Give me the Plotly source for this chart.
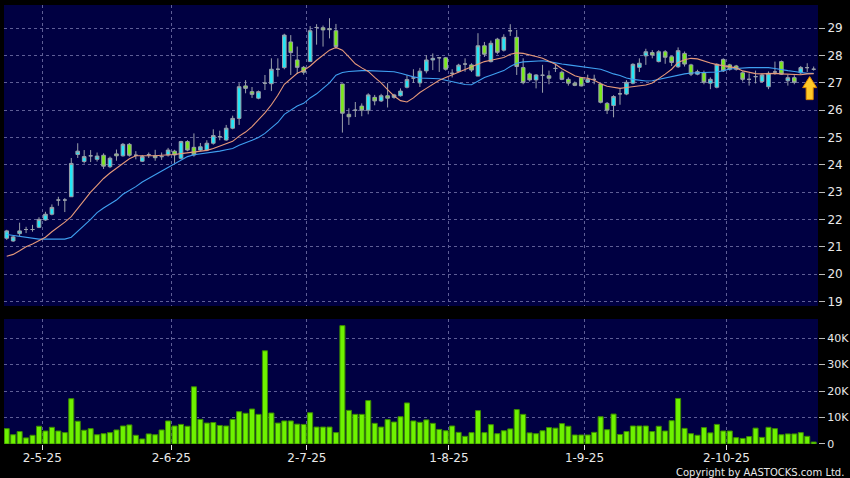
import plotly.graph_objects as go

# ---------------- data ----------------
month_labels = ["2-5-25", "2-6-25", "2-7-25", "1-8-25", "1-9-25", "2-10-25"]
month_first_bar = [6, 26, 47, 69, 90, 112]

open_ = [21.31, 21.21, 21.48, 21.63, 21.63, 21.71, 21.98, 22.19, 22.71, 22.71,
         22.83, 24.38, 24.12, 24.33, 24.20, 24.35, 23.93, 24.40, 24.33, 24.75,
         24.35, 24.13, 24.37, 24.33, 24.30, 24.36, 24.50, 24.24, 24.85, 24.64,
         24.54, 24.54, 24.79, 25.03, 24.91, 25.34, 25.70, 26.89, 26.68, 26.44,
         26.99, 26.97, 27.50, 27.56, 28.50, 27.84, 27.57, 27.78, 29.03, 29.02,
         28.99, 28.91, 26.96, 25.85, 26.00, 26.15, 26.00, 26.47, 26.34, 26.53,
         26.47, 26.53, 26.84, 27.18, 27.00, 27.44, 27.84, 27.92, 27.92, 27.35,
         27.42, 27.69, 27.66, 27.25, 28.36, 27.78, 28.60, 28.20, 28.91, 28.67,
         27.56, 27.33, 27.11, 27.28, 27.26, 27.53, 27.39, 27.13, 26.99, 27.19,
         27.03, 27.13, 26.96, 26.25, 26.17, 26.60, 26.59, 26.99, 27.57, 27.99,
         28.11, 27.78, 28.14, 27.96, 27.59, 28.08, 27.66, 27.32, 27.37, 26.99,
         26.84, 27.86, 27.66, 27.62, 27.37, 27.13, 27.23, 27.05, 26.86, 27.40,
         27.78, 27.08, 27.19, 27.37, 27.56, 27.50]
high = [21.62, 21.40, 21.88, 21.73, 21.80, 22.08, 22.28, 22.55, 22.83, 22.78,
        24.25, 24.79, 24.54, 24.54, 24.45, 24.42, 24.30, 24.56, 24.80, 24.80,
        24.50, 24.36, 24.45, 24.55, 24.45, 24.62, 24.55, 24.88, 24.90, 25.15,
        24.80, 24.90, 25.30, 25.25, 25.46, 25.80, 26.99, 27.10, 26.85, 26.72,
        27.29, 27.90, 27.90, 28.80, 28.75, 28.33, 27.62, 29.08, 29.15, 29.10,
        29.37, 29.16, 26.96, 26.07, 26.30, 26.25, 26.62, 26.56, 26.60, 26.99,
        26.60, 26.80, 27.28, 27.50, 27.55, 28.02, 28.08, 27.95, 27.95, 27.50,
        27.70, 27.90, 27.72, 28.82, 28.50, 28.55, 28.65, 28.78, 29.15, 28.94,
        27.90, 27.38, 27.32, 27.66, 27.45, 27.70, 27.45, 27.20, 27.05, 27.22,
        27.30, 27.30, 26.98, 26.30, 26.55, 26.80, 27.10, 27.72, 27.90, 28.25,
        28.20, 28.20, 28.20, 28.00, 28.30, 28.15, 27.70, 27.48, 27.45, 27.20,
        27.72, 27.90, 27.70, 27.66, 27.42, 27.35, 27.45, 27.35, 27.42, 27.78,
        27.82, 27.30, 27.28, 27.62, 27.72, 27.60]
low = [21.25, 21.18, 21.39, 21.50, 21.55, 21.68, 21.95, 22.15, 22.50, 22.27,
       22.83, 24.25, 24.05, 24.10, 24.12, 23.85, 23.88, 24.15, 24.30, 24.30,
       24.20, 24.10, 24.25, 24.15, 24.18, 24.30, 24.05, 24.20, 24.50, 24.30,
       24.50, 24.50, 24.74, 24.90, 24.88, 25.30, 25.46, 26.62, 26.45, 26.40,
       26.74, 26.70, 27.23, 27.50, 27.29, 27.33, 27.30, 27.78, 28.40, 28.33,
       28.63, 28.25, 25.18, 25.46, 25.75, 25.78, 25.85, 26.18, 26.30, 26.10,
       26.42, 26.50, 26.80, 27.00, 26.85, 27.35, 27.47, 27.40, 27.45, 27.20,
       27.38, 27.41, 27.40, 27.25, 27.95, 27.75, 28.05, 28.15, 28.72, 27.29,
       26.95, 27.05, 26.80, 26.64, 26.95, 27.40, 27.10, 26.90, 26.88, 26.87,
       27.00, 26.95, 26.25, 25.86, 25.74, 26.20, 26.55, 26.95, 27.40, 27.66,
       27.90, 27.75, 27.70, 27.62, 27.55, 27.60, 27.25, 27.28, 26.95, 26.77,
       26.80, 27.40, 27.45, 27.45, 27.05, 26.90, 26.98, 27.00, 26.77, 27.30,
       27.30, 26.90, 26.95, 27.30, 27.40, 27.45]
close = [21.58, 21.36, 21.58, 21.63, 21.63, 22.00, 22.19, 22.44, 22.71, 22.71,
         24.05, 24.50, 24.30, 24.33, 24.32, 23.95, 24.24, 24.33, 24.75, 24.35,
         24.35, 24.30, 24.37, 24.26, 24.30, 24.54, 24.36, 24.85, 24.54, 24.36,
         24.66, 24.79, 25.07, 25.03, 25.34, 25.70, 26.86, 26.80, 26.58, 26.68,
         26.99, 27.50, 27.50, 28.75, 28.11, 27.57, 27.39, 28.91, 29.03, 28.94,
         28.95, 28.33, 25.89, 25.76, 26.00, 26.00, 26.56, 26.34, 26.53, 26.44,
         26.56, 26.70, 27.12, 27.18, 27.43, 27.84, 27.90, 27.92, 27.50, 27.35,
         27.65, 27.69, 27.47, 28.36, 28.05, 28.45, 28.12, 28.67, 28.91, 27.60,
         27.01, 27.11, 27.29, 27.28, 27.17, 27.53, 27.13, 26.99, 26.91, 26.89,
         27.13, 27.13, 26.29, 26.00, 26.50, 26.60, 27.02, 27.68, 27.72, 28.14,
         28.02, 28.14, 27.94, 27.75, 28.18, 27.69, 27.32, 27.41, 27.02, 27.13,
         27.68, 27.44, 27.50, 27.50, 27.13, 27.13, 27.23, 27.29, 27.35, 27.40,
         27.32, 27.19, 27.02, 27.56, 27.56, 27.50]
volume = [5800, 3500, 4700, 2300, 3300, 6700, 4900, 6300, 4900, 4300,
          17100, 8600, 5200, 5800, 3500, 3900, 4300, 5300, 6800, 7200,
          3300, 1900, 3800, 3500, 5300, 8700, 6800, 7400, 6700, 21600,
          9300, 7900, 8100, 7000, 6800, 9300, 12200, 11600, 13200, 11200,
          35200, 11700, 7900, 8700, 8700, 7500, 7400, 11800, 6400, 6400,
          6400, 4300, 44700, 12700, 11200, 11200, 16400, 7800, 6400, 9200,
          8300, 10300, 15500, 8700, 8200, 9100, 7800, 5500, 5000, 6800,
          4400, 2900, 4300, 12600, 4300, 7300, 3900, 5000, 5700, 13000,
          11200, 4200, 3900, 5000, 6200, 6000, 7700, 6700, 3400, 3400,
          3400, 4400, 10300, 5400, 11300, 3600, 4700, 6800, 6800, 6800,
          4700, 6700, 4900, 8800, 17200, 5900, 3900, 3300, 6200, 4200,
          7400, 4900, 4900, 2400, 2100, 2800, 6000, 2500, 6300, 5800,
          3500, 3800, 3800, 4300, 2900, 750]
ma_short = [20.65, 20.72, 20.85, 21.00, 21.10, 21.22, 21.35, 21.55, 21.72, 21.90,
            22.10, 22.40, 22.72, 23.00, 23.25, 23.50, 23.70, 23.87, 24.05, 24.22,
            24.33, 24.33, 24.32, 24.33, 24.35, 24.36, 24.38, 24.41, 24.44, 24.47,
            24.49, 24.53, 24.60, 24.68, 24.78, 24.86, 25.05, 25.20, 25.40, 25.65,
            25.90, 26.20, 26.55, 26.95, 27.15, 27.35, 27.45, 27.62, 27.83, 28.02,
            28.20, 28.30, 28.20, 27.95, 27.70, 27.55, 27.42, 27.20, 27.00, 26.75,
            26.52, 26.35, 26.30, 26.45, 26.65, 26.80, 26.95, 27.10, 27.20, 27.30,
            27.40, 27.50, 27.60, 27.70, 27.78, 27.83, 27.88, 27.93, 28.05, 28.10,
            28.08, 28.03, 27.97, 27.90, 27.80, 27.68, 27.52, 27.38, 27.26, 27.20,
            27.17, 27.10, 26.97, 26.88, 26.83, 26.80, 26.83, 26.86, 26.89, 26.92,
            27.00, 27.15, 27.32, 27.50, 27.75, 27.85, 27.90, 27.88, 27.80, 27.73,
            27.67, 27.63, 27.60, 27.55, 27.44, 27.38, 27.34, 27.33, 27.35, 27.35,
            27.33, 27.32, 27.30, 27.30, 27.33, 27.34]
ma_long = [21.45, 21.42, 21.39, 21.35, 21.31, 21.28, 21.28, 21.28, 21.28, 21.28,
           21.35, 21.55, 21.78, 22.00, 22.25, 22.42, 22.58, 22.71, 22.92, 23.05,
           23.20, 23.37, 23.50, 23.65, 23.78, 23.90, 24.03, 24.15, 24.30, 24.37,
           24.40, 24.42, 24.45, 24.50, 24.55, 24.60, 24.72, 24.80, 24.90, 25.00,
           25.15, 25.35, 25.55, 25.85, 26.00, 26.15, 26.25, 26.45, 26.60, 26.80,
           27.00, 27.28, 27.38, 27.42, 27.44, 27.45, 27.45, 27.44, 27.43, 27.42,
           27.41, 27.35, 27.28, 27.22, 27.18, 27.17, 27.17, 27.15, 27.10, 27.05,
           27.00, 26.94, 26.93, 27.08, 27.20, 27.28, 27.37, 27.45, 27.60, 27.72,
           27.77, 27.79, 27.80, 27.81, 27.78, 27.73, 27.69, 27.66, 27.63, 27.60,
           27.58, 27.55, 27.50, 27.42, 27.33, 27.27, 27.18, 27.13, 27.10, 27.07,
           27.08, 27.13, 27.18, 27.23, 27.29, 27.33, 27.36, 27.37, 27.37, 27.37,
           27.40, 27.45, 27.51, 27.53, 27.55, 27.56, 27.56, 27.56, 27.56, 27.53,
           27.48, 27.45, 27.42, 27.38, 27.35, 27.35]

vol_ticks = [0, 10000, 20000, 30000, 40000]
vol_tick_labels = ["0", "10K", "20K", "30K", "40K"]
price_ticks = list(range(19, 30))

# ---------------- styles ----------------
BG = "#000000"
PANEL = "#000042"
GRID = "#5e5e96"
TXT = "#e8e8e8"
UP = "#22e6f6"
DOWN = "#7aea1a"
WICK = "#9aa0aa"
FONT = "DejaVu Sans"

bars = list(range(len(close)))
groups = {
    "up": [i for i in bars if close[i] > open_[i]],
    "down": [i for i in bars if close[i] < open_[i]],
    "flat": [i for i in bars if close[i] == open_[i]],
}
fills = {"up": UP, "down": DOWN, "flat": WICK}

fig = go.Figure()
for name, idx in groups.items():
    fig.add_trace(go.Candlestick(
        x=idx,
        open=[open_[i] for i in idx], high=[high[i] for i in idx],
        low=[low[i] for i in idx], close=[close[i] for i in idx],
        increasing=dict(line=dict(color=WICK, width=1), fillcolor=fills[name]),
        decreasing=dict(line=dict(color=WICK, width=1), fillcolor=fills[name]),
        whiskerwidth=0, hoverinfo="skip", showlegend=False,
        xaxis="x", yaxis="y",
    ))

fig.add_trace(go.Scatter(x=bars, y=ma_long, mode="lines",
                         line=dict(color="#3f9ff0", width=1.1),
                         hoverinfo="skip", showlegend=False, xaxis="x", yaxis="y"))
fig.add_trace(go.Scatter(x=bars, y=ma_short, mode="lines",
                         line=dict(color="#e6997a", width=1.1),
                         hoverinfo="skip", showlegend=False, xaxis="x", yaxis="y"))

fig.add_trace(go.Bar(x=bars, y=volume,
                     marker=dict(color="#6ef200", line=dict(color="#3c8c00", width=1)),
                     hoverinfo="skip", showlegend=False, xaxis="x2", yaxis="y2"))

# yellow arrow pointing at last bar (pixel-sized path anchored to the last bar's low)
last = bars[-1]
arrow_path = ("M -4 -6 L -11 -17 L -7.5 -17 L -7.5 -29 L -0.5 -29 "
              "L -0.5 -17 L 3 -17 Z")
fig.add_shape(type="path", xref="x", yref="y", xsizemode="pixel", ysizemode="pixel",
              xanchor=last, yanchor=low[last], path=arrow_path,
              fillcolor="#ffc928", line=dict(color="#e08a00", width=1))

tick_pos = [b - 0.5 for b in month_first_bar]

xcommon = dict(range=[-0.42, 125.67], showgrid=True, gridcolor=GRID, griddash="3px,3px",
               gridwidth=1, zeroline=False, showline=False, tickvals=tick_pos,
               fixedrange=True)
fig.update_layout(
    width=850, height=478,
    margin=dict(l=4, r=32, t=5, b=34, autoexpand=False),
    paper_bgcolor=BG, plot_bgcolor=PANEL,
    font=dict(family=FONT, color=TXT, size=12),
    showlegend=False,
    boxgap=0.2,
    bargap=0.22,
    xaxis=dict(**xcommon, anchor="y", showticklabels=False, ticks="",
               rangeslider=dict(visible=False)),
    xaxis2=dict(**xcommon, anchor="y2", matches="x", ticktext=month_labels,
                ticks="outside", ticklen=5, tickcolor=TXT, ticklabelstandoff=-2,
                tickfont=dict(family=FONT, size=12, color=TXT)),
    yaxis=dict(domain=[0.3144, 1.0], range=[18.83, 29.853], side="right",
               tickvals=price_ticks, ticks="outside", ticklen=6, tickcolor="#bbbbbb",
               showgrid=True, gridcolor=GRID, griddash="3px,3px", zeroline=False,
               tickfont=dict(family=FONT, size=12, color=TXT), anchor="x"),
    yaxis2=dict(domain=[0.0, 0.2847], range=[0, 47200], side="right",
                tickvals=vol_ticks, ticktext=vol_tick_labels, ticks="outside",
                ticklen=6, tickcolor="#bbbbbb", showgrid=True, gridcolor=GRID,
                griddash="3px,3px", zeroline=False,
                tickfont=dict(family=FONT, size=11, color=TXT), anchor="x2"),
    annotations=[dict(text="Copyright by AASTOCKS.com Ltd.", xref="paper", yref="paper",
                      x=1.035, y=-0.064, xanchor="right", yanchor="middle",
                      showarrow=False, font=dict(family=FONT, size=10, color=TXT))],
)

fig.write_html("out.html", config={"displayModeBar": False},
               post_script="document.body.style.margin='0';"
                           "document.body.style.padding='0';"
                           "document.documentElement.style.overflow='hidden';")
